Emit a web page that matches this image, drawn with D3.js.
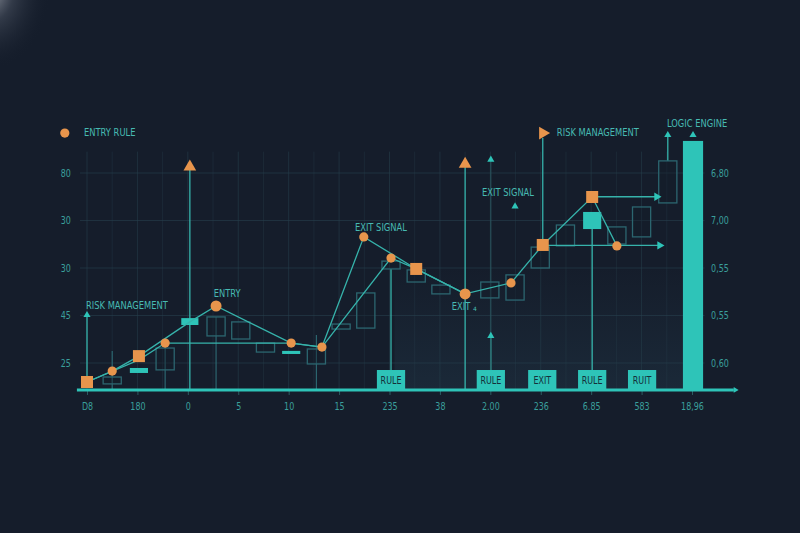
<!DOCTYPE html>
<html><head><meta charset="utf-8">
<script src="https://cdn.jsdelivr.net/npm/d3@7"></script>
<style>html,body{margin:0;padding:0;background:#151d2b;overflow:hidden}</style>
</head><body><svg id="c" width="800" height="533"></svg>
<script>
// ---------- DATA ----------
const categories = ["D8","180","0","5","10","15","235","38","2.00","236","6.85","583","18,96"];
const leftTickValues = [10,30,50,70,90];
const leftTickLabels = ["25","45","30","30","80"];
const rightTickLabels = ["0,60","0,55","0,55","7,00","6,80"];

// upper signal line (x in category index units, value on left scale)
const upperX = [0,0.5,1.03,2.04,2.56,4.05,4.66,5.49,6.53,7.5,8.41,9.04,10.02,10.51];
const upperV = [2.0,6.6,12.9,27.3,34.0,18.4,16.7,63.1,49.6,39.1,43.7,59.7,79.9,59.3];
const upperM = ["sq","ci","sq","none","ciL","ci","ci","ci","sq","ciL","ci","sq","sq","ci"];
// lower signal line
const lowerX = [0,1.03,1.55,4.05,4.66,6.03,6.53,7.5];
const lowerV = [2.0,11.3,18.4,18.4,16.7,54.2,49.6,39.1];
const lowerM = ["none","none","ci","none","none","ci","none","none"];

// hollow candles: x, top, bottom, wick top (null = none)
const candleX   = [0.5,1.55,2.56,3.05,3.54,4.55,5.04,5.53,6.03,6.53,7.02,7.99,8.49,8.99,9.49,10.51,11.00,11.52];
const candleTop = [4.1,16.3,29.4,27.3,18.4,15.9,26.4,39.5,52.9,49.2,42.8,44.1,47.1,58.8,68.1,67.3,75.7,95.1];
const candleBot = [1.2,7.1,21.4,20.1,14.6,9.6,24.3,24.7,49.6,44.1,39.1,37.4,36.5,50.0,59.3,60.1,63.1,77.4];
const candleWick= [15.1,18.4,29.4,null,null,21.8,null,null,null,null,null,null,null,null,null,null,null,null];

// filled teal blocks: x, top, bottom, width (index units)
const blockX   = [1.03,2.04,4.05,10.02];
const blockTop = [7.9,28.9,15.1,73.6];
const blockBot = [5.8,26.0,13.8,66.4];
const blockW   = [0.36,0.34,0.36,0.36];

// big "logic engine" bar
const bigBarX = 12.02, bigBarV = 103.5;

// rule boxes
const ruleX = [6.03,8.01,9.03,10.02,11.01];
const ruleText = ["RULE","RULE","EXIT","RULE","RUIT"];
const ruleTop = 7.05;

// vertical stems: x, from value, to value
const stemX    = [2.04,7.5,9.04,10.02,6.03,8.01,0,11.52,8.01];
const stemFrom = [92.1,93.0,104.7,66.4,49.6,21.0,29.8,105.6,95.6];
const stemTo   = [-1.35,-1.35,59.7,7.05,7.05,7.05,2.0,95.1,-1.35];
const stemDim  = [false,false,false,false,false,false,false,false,true];

// orange triangles
const triX = [2.04,7.5,9.04];
const triV = [92.6,93.8,106.8];
const triDir = ["up","up","right"];
// small teal arrowheads
const arrX = [0,8.01,8.01,8.49,11.52,12.02];
const arrV = [30.2,95.6,21.4,75.9,106.0,106.0];
// horizontal arrows: x from, x to, value
const hArrFrom = [10.02,9.04], hArrTo = [11.30,11.36], hArrV = [80.0,59.5];

// annotations
const annText = ["ENTRY RULE","RISK MANAGEMENT","LOGIC ENGINE","EXIT SIGNAL","EXIT SIGNAL","ENTRY","RISK MANAGEMENT","EXIT"];
const annX    = [-0.06,9.32,12.10,5.83,8.35,2.78,-0.02,7.42];
const annV    = [106.8,106.8,110.6,66.8,81.6,39.1,34.0,33.6];
const annAnchor = ["start","start","middle","middle","middle","middle","start","middle"];

// ---------- DRAW ----------
const BASE = -1.35;
const SQ = 0.76; // horizontal condensing of text
const svg = d3.select("#c");
const x = d3.scaleLinear().domain([0,12]).range([87,692]);
const y = d3.scaleLinear().domain([10,90]).range([363,173]);
const teal = "#2ec4b8", tealLine = "#36b3ab", orange = "#e8954c", dimTeal = "#2c6670";
const font = "'DejaVu Sans',sans-serif";

function condense(sel){
  sel.each(function(){
    const t = d3.select(this), ax = +t.attr("x") || 0;
    t.attr("transform",`translate(${ax},0) scale(${SQ},1) translate(${-ax},0)`);
  });
}

const defs = svg.append("defs");
const rg = defs.append("radialGradient").attr("id","glow").attr("cx",0.5).attr("cy",0.5).attr("r",0.5);
rg.append("stop").attr("offset","0%").attr("stop-color","#b8bcc4").attr("stop-opacity",0.85);
rg.append("stop").attr("offset","40%").attr("stop-color","#5d6574").attr("stop-opacity",0.4);
rg.append("stop").attr("offset","100%").attr("stop-color","#151d2b").attr("stop-opacity",0);
const lg = defs.append("linearGradient").attr("id","band").attr("x1",0).attr("y1",0).attr("x2",0).attr("y2",1);
lg.append("stop").attr("offset","0%").attr("stop-color","#1f3343").attr("stop-opacity",0);
lg.append("stop").attr("offset","100%").attr("stop-color","#1f3343").attr("stop-opacity",0.55);

svg.append("rect").attr("width",800).attr("height",533).attr("fill","#151d2b");
svg.append("ellipse").attr("cx",-10).attr("cy",-10).attr("rx",60).attr("ry",80).attr("fill","url(#glow)");
svg.append("rect").attr("x",x(6.1)).attr("y",y(50)).attr("width",x(11.9)-x(6.1)).attr("height",y(BASE)-y(50)).attr("fill","url(#band)");

// grid
const g = svg.append("g");
g.selectAll("line.vg").data(d3.range(0,12.01,0.5)).join("line").attr("class","vg")
  .attr("x1",d=>x(d)).attr("x2",d=>x(d)).attr("y1",y(99)).attr("y2",y(BASE))
  .attr("stroke","#27404c").attr("stroke-opacity",d=>Number.isInteger(d)?0.55:0.35).attr("stroke-width",1);
g.selectAll("line.hg").data(leftTickValues).join("line").attr("class","hg")
  .attr("x1",x(-0.14)).attr("x2",x(12.25)).attr("y1",d=>y(d)).attr("y2",d=>y(d))
  .attr("stroke","#27404c").attr("stroke-opacity",0.6);

// axes
const la = svg.append("g").attr("transform",`translate(${x(-0.24)},0)`)
  .call(d3.axisLeft(y).tickValues(leftTickValues).tickFormat((d,i)=>leftTickLabels[i]).tickSize(0).tickPadding(4));
const ra = svg.append("g").attr("transform",`translate(${x(12.3)},0)`)
  .call(d3.axisRight(y).tickValues(leftTickValues).tickFormat((d,i)=>rightTickLabels[i]).tickSize(0).tickPadding(4));
const ba = svg.append("g").attr("transform",`translate(0,${y(BASE)})`)
  .call(d3.axisBottom(x).tickValues(d3.range(categories.length)).tickFormat(i=>categories[i]).tickSize(5).tickPadding(8));
[la,ra,ba].forEach(a=>{
  a.select(".domain").remove();
  a.selectAll("text").attr("fill","#3a9f9b").attr("font-family",font).attr("font-size",10.5).call(condense);
  a.selectAll("line").attr("stroke","#2c5e63");
});

// stems
const stems = stemX.map((d,i)=>({x:d,from:stemFrom[i],to:stemTo[i],dim:stemDim[i]}));
svg.selectAll("line.stem").data(stems).join("line").attr("class","stem")
  .attr("x1",d=>x(d.x)).attr("x2",d=>x(d.x)).attr("y1",d=>y(d.from)).attr("y2",d=>y(d.to))
  .attr("stroke",d=>d.dim?"#2a5560":tealLine).attr("stroke-width",d=>d.dim?1:1.3);

// candles
const candles = candleX.map((d,i)=>({x:d,top:candleTop[i],bot:candleBot[i],wick:candleWick[i]}));
svg.selectAll("line.cw").data(candles.filter(c=>c.wick!==null)).join("line").attr("class","cw")
  .attr("x1",d=>x(d.x)).attr("x2",d=>x(d.x)).attr("y1",d=>y(d.wick)).attr("y2",y(BASE))
  .attr("stroke",dimTeal).attr("stroke-width",1.2);
svg.selectAll("rect.cd").data(candles).join("rect").attr("class","cd")
  .attr("x",d=>x(d.x-0.18)).attr("width",x(0.36)-x(0))
  .attr("y",d=>y(d.top)).attr("height",d=>y(d.bot)-y(d.top))
  .attr("fill","#151d2b").attr("fill-opacity",0.4).attr("stroke",dimTeal).attr("stroke-width",1.3);

// filled blocks
svg.selectAll("rect.bk").data(blockX).join("rect").attr("class","bk")
  .attr("x",(d,i)=>x(d-blockW[i]/2)).attr("width",(d,i)=>x(blockW[i])-x(0))
  .attr("y",(d,i)=>y(blockTop[i])).attr("height",(d,i)=>y(blockBot[i])-y(blockTop[i]))
  .attr("fill",teal);

// big bar
svg.append("rect").attr("x",x(bigBarX-0.2)).attr("width",x(0.4)-x(0))
  .attr("y",y(bigBarV)).attr("height",y(BASE)-y(bigBarV)).attr("fill",teal);

// rule boxes
const rb = svg.selectAll("g.rb").data(ruleX).join("g").attr("class","rb");
rb.append("rect").attr("x",d=>x(d-0.28)).attr("width",x(0.56)-x(0))
  .attr("y",y(ruleTop)).attr("height",y(BASE)-y(ruleTop)).attr("fill",teal);
rb.append("text").attr("x",d=>x(d)).attr("y",(y(ruleTop)+y(BASE))/2+1).text((d,i)=>ruleText[i])
  .attr("text-anchor","middle").attr("dominant-baseline","middle")
  .attr("font-family",font).attr("font-size",10.5).attr("fill","#14303a").call(condense);

// baseline
svg.append("line").attr("x1",x(-0.2)).attr("x2",x(12.83)).attr("y1",y(BASE)).attr("y2",y(BASE))
  .attr("stroke",teal).attr("stroke-width",3);
svg.append("path").attr("d",d3.symbol(d3.symbolTriangle,14)())
  .attr("transform",`translate(${x(12.86)},${y(BASE)}) rotate(90)`).attr("fill",teal);

// horizontal arrows
svg.selectAll("line.ha").data(hArrFrom).join("line").attr("class","ha")
  .attr("x1",d=>x(d)).attr("x2",(d,i)=>x(hArrTo[i])).attr("y1",(d,i)=>y(hArrV[i])).attr("y2",(d,i)=>y(hArrV[i]))
  .attr("stroke",tealLine).attr("stroke-width",1.3);
svg.selectAll("path.hah").data(hArrTo).join("path").attr("class","hah").attr("d",d3.symbol(d3.symbolTriangle,30)())
  .attr("transform",(d,i)=>`translate(${x(d)},${y(hArrV[i])}) rotate(90)`).attr("fill",teal);

// lines
const line = d3.line().x(d=>x(d[0])).y(d=>y(d[1]));
svg.append("path").attr("d",line(upperX.map((d,i)=>[d,upperV[i]])))
  .attr("fill","none").attr("stroke",tealLine).attr("stroke-width",1.3);
svg.append("path").attr("d",line(lowerX.map((d,i)=>[d,lowerV[i]])))
  .attr("fill","none").attr("stroke",tealLine).attr("stroke-width",1.3);

// markers
function markers(xs,vs,ms){
  xs.forEach((d,i)=>{
    const m = ms[i], cx = x(d), cy = y(vs[i]);
    if (m==="ci"||m==="ciL") svg.append("circle").attr("cx",cx).attr("cy",cy).attr("r",m==="ciL"?5.5:4.6).attr("fill",orange);
    if (m==="sq") svg.append("rect").attr("x",cx-6).attr("y",cy-6).attr("width",12).attr("height",12).attr("fill",orange);
  });
}
markers(upperX,upperV,upperM);
markers(lowerX,lowerV,lowerM);

// orange triangles
svg.selectAll("path.tri").data(triX).join("path").attr("class","tri").attr("d",d3.symbol(d3.symbolTriangle,70)())
  .attr("transform",(d,i)=>`translate(${x(d)},${y(triV[i])}) rotate(${triDir[i]==="right"?90:0})`).attr("fill",orange);
// small arrowheads
svg.selectAll("path.ar").data(arrX).join("path").attr("class","ar").attr("d",d3.symbol(d3.symbolTriangle,22)())
  .attr("transform",(d,i)=>`translate(${x(d)},${y(arrV[i])})`).attr("fill",teal);

// legend circle
svg.append("circle").attr("cx",x(-0.44)).attr("cy",y(106.8)).attr("r",4.6).attr("fill",orange);

// annotations
svg.selectAll("text.ann").data(annText).join("text").attr("class","ann")
  .attr("x",(d,i)=>x(annX[i])).attr("y",(d,i)=>y(annV[i])).text(d=>d)
  .attr("text-anchor",(d,i)=>annAnchor[i]).attr("dominant-baseline","middle")
  .attr("font-family",font).attr("font-size",11).attr("fill","#47bab2").call(condense);
svg.append("text").attr("x",x(7.42)+12).attr("y",y(33.6)+2).text("4")
  .attr("font-family",font).attr("font-size",6).attr("fill","#47bab2").attr("dominant-baseline","middle");
</script></body></html>
